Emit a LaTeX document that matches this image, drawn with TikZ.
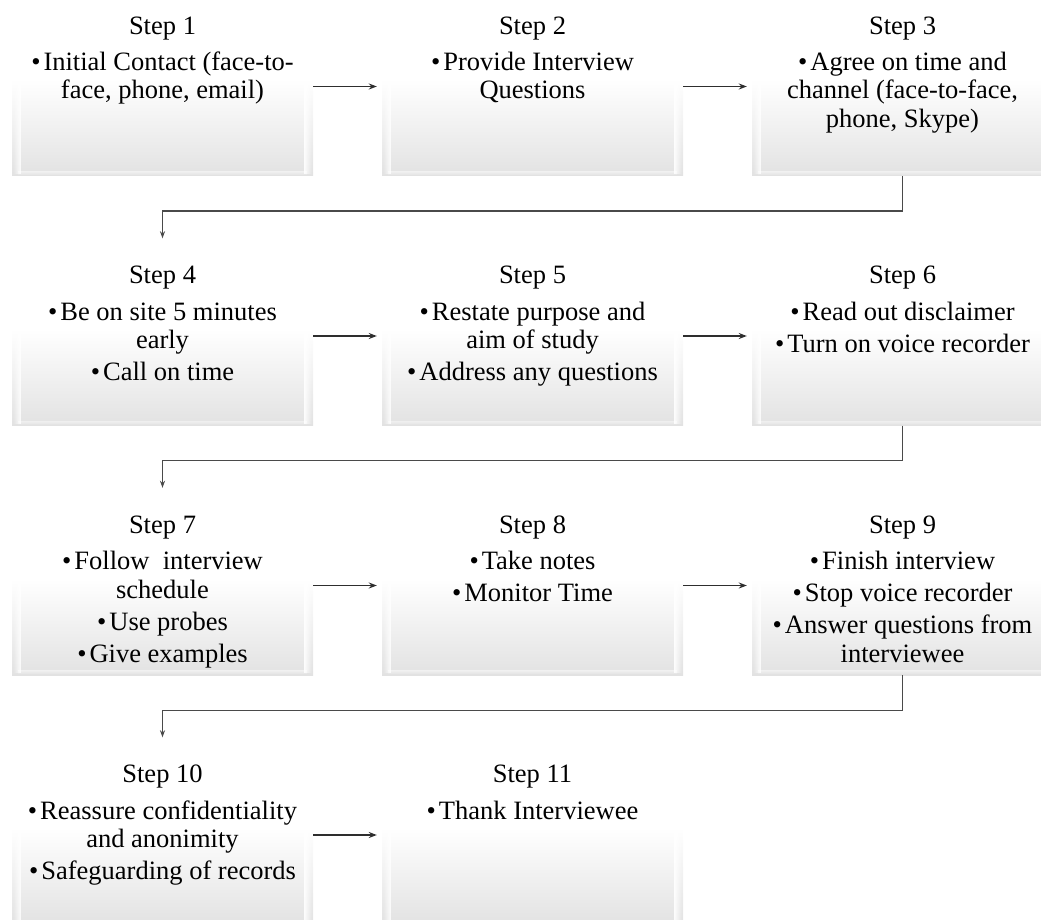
\documentclass[tikz,border=0pt]{standalone}
\usepackage{fontspec}
\setmainfont{Liberation Serif}
\usetikzlibrary{fadings,arrows.meta,calc}

\definecolor{boxlo}{HTML}{E2E2E2}
\definecolor{linecol}{HTML}{2E2E2E}
\definecolor{retcol}{HTML}{4A4A4A}

% white upper half, fading to light grey at the bottom edge
\pgfdeclareverticalshading{stepshade}{100bp}{color(0bp)=(boxlo); color(25bp)=(boxlo); color(52bp)=(white); color(100bp)=(white)}

\newcommand\bul{\textbullet\hspace{3pt}}
\newcommand\firstline{\rule{0pt}{20pt}}

\tikzset{
  stepbox/.style={rectangle, minimum width=301pt, minimum height=179pt,
    inner sep=0pt, shade, shading=stepshade},
  steptitle/.style={anchor=base, inner sep=0pt, font=\fontsize{26.5}{28}\selectfont},
  stepbody/.style={anchor=north, align=center, inner sep=0pt,
    font=\fontsize{26.5}{28.5}\selectfont},
  flow/.style={draw=linecol, line width=1.6pt, -{Stealth[length=8pt,width=6pt]}},
  back/.style={draw=retcol, line width=1.4pt, -{Stealth[length=7pt,width=5pt]}},
}

% box with bevelled highlights, title and bullet text
\newcommand\stepnode[4]{% name, centre, title, body
  \node[stepbox] (#1) at (#2) {};
  \fill[white, opacity=0.9, path fading=west] ($(#1.north west)+(1.5,0)$) rectangle ($(#1.south west)+(9,-2)$);
  \fill[white, opacity=0.9, path fading=east] ($(#1.north east)+(-9,0)$) rectangle ($(#1.south east)+(-1.5,-2)$);
  \fill[white, opacity=0.5, path fading=south] ($(#1.south west)+(6,-5)$) rectangle ($(#1.south east)+(-6,-1)$);
  \node[steptitle] (#1t) at ($(#1.north)+(0,37.5)$) {#3};
  \node[stepbody] (#1d) at ($(#1.north)+(0,53.5)$) {\firstline #4};
}

\begin{document}
\begin{tikzpicture}[x=1pt, y=-1pt]
\useasboundingbox (0,0) rectangle (1041,920);
\clip (0,0) rectangle (1041,920);

\stepnode{s1}{162.5,86.5}{Step 1}{\bul Initial Contact (face-to-\\face, phone, email)}
\stepnode{s2}{532.5,86.5}{Step 2}{\bul Provide Interview\\Questions}
\stepnode{s3}{902.5,86.5}{Step 3}{\bul Agree on time and\\channel (face-to-face,\\phone, Skype)}

\stepnode{s4}{162.5,336}{Step 4}{\bul Be on site 5 minutes\\early\\[3.5pt]\bul Call on time}
\stepnode{s5}{532.5,336}{Step 5}{\bul Restate purpose and\\aim of study\\[3.5pt]\bul Address any questions}
\stepnode{s6}{902.5,336}{Step 6}{\bul Read out disclaimer\\[3.5pt]\bul Turn on voice recorder}

\stepnode{s7}{162.5,585.5}{Step 7}{\bul Follow\ \ interview\\schedule\\[3.5pt]\bul Use probes\\[3.5pt]\bul Give examples}
\stepnode{s8}{532.5,585.5}{Step 8}{\bul Take notes\\[3.5pt]\bul Monitor Time}
\stepnode{s9}{902.5,585.5}{Step 9}{\bul Finish interview\\[3.5pt]\bul Stop voice recorder\\[3.5pt]\bul Answer questions from\\interviewee}

\stepnode{s10}{162.5,835}{Step 10}{\bul Reassure confidentiality\\and anonimity\\[3.5pt]\bul Safeguarding of records}
\stepnode{s11}{532.5,835}{Step 11}{\bul Thank Interviewee}

% arrows along each row
\draw[flow, shorten >=5pt] (s1.east) -- (s2.west);
\draw[flow, shorten >=5pt] (s2.east) -- (s3.west);
\draw[flow, shorten >=5pt] (s4.east) -- (s5.west);
\draw[flow, shorten >=5pt] (s5.east) -- (s6.west);
\draw[flow, shorten >=5pt] (s7.east) -- (s8.west);
\draw[flow, shorten >=5pt] (s8.east) -- (s9.west);
\draw[flow, shorten >=5pt] (s10.east) -- (s11.west);

% returns from the end of one row to the start of the next
\draw[back, shorten >=8pt] (s3.south) -- ++(0,35) -| (s4.north);
\draw[back, shorten >=8pt] (s6.south) -- ++(0,35) -| (s7.north);
\draw[back, shorten >=8pt] (s9.south) -- ++(0,35) -| (s10.north);
\end{tikzpicture}
\end{document}
